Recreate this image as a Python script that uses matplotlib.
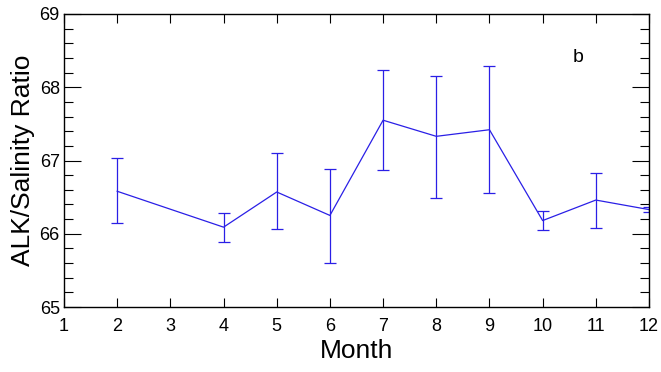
import matplotlib
matplotlib.use("Agg")
import matplotlib.pyplot as plt
from matplotlib.ticker import MultipleLocator

# monthly ALK/Salinity ratio with error bars
months = [2, 4, 5, 6, 7, 8, 9, 10, 11, 12]
ratio = [66.58, 66.09, 66.57, 66.25, 67.55, 67.33, 67.42, 66.18, 66.46, 66.33]
upper = [67.04, 66.29, 67.10, 66.88, 68.24, 68.16, 68.29, 66.31, 66.83, 66.36]
lower = [66.14, 65.89, 66.07, 65.60, 66.87, 66.49, 66.55, 66.05, 66.08, 66.30]

err_lo = [r - l for r, l in zip(ratio, lower)]
err_hi = [u - r for u, r in zip(upper, ratio)]

plt.rcParams['font.family'] = ['Liberation Sans', 'DejaVu Sans']

fig = plt.figure(figsize=(6.61, 3.72), dpi=100)
ax = fig.add_axes([64 / 661, 1 - 307 / 372, 585 / 661, 293 / 372])

ax.errorbar(months, ratio, yerr=[err_lo, err_hi], color='#2a1fe6',
            linewidth=0.9, elinewidth=0.9, capsize=4.3, capthick=0.9,
            clip_on=True)

ax.set_xlim(1, 12)
ax.set_ylim(65, 69)
ax.set_xticks(range(1, 13))
ax.set_yticks([65, 66, 67, 68, 69])
ax.yaxis.set_minor_locator(MultipleLocator(0.2))

ax.tick_params(axis='x', which='major', direction='in', length=6.5, width=0.8,
               top=True, labelsize=13, pad=8)
ax.tick_params(axis='y', which='major', direction='in', length=12.5, width=0.8,
               right=True, labelsize=13, pad=3)
ax.tick_params(axis='y', which='minor', direction='in', length=6.5, width=0.8,
               right=True)

for s in ax.spines.values():
    s.set_linewidth(1.0)

ax.set_xlabel("Month", fontsize=19, labelpad=3)
ax.set_ylabel("ALK/Salinity Ratio", fontsize=19, labelpad=3)

ax.text(0.879, 0.853, "b", transform=ax.transAxes, fontsize=14,
        ha='center', va='center')

fig.savefig("out.png", dpi=100)
